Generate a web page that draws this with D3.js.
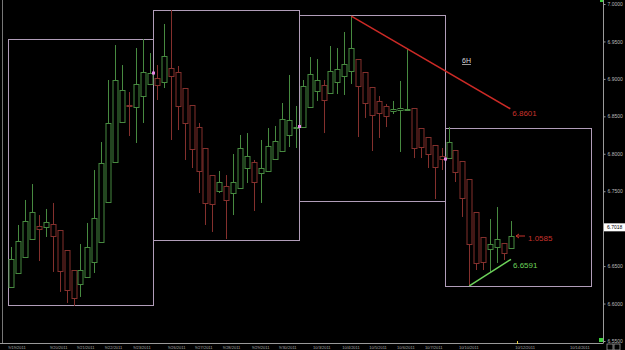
<!DOCTYPE html>
<html>
<head>
<meta charset="utf-8">
<script src="https://cdn.jsdelivr.net/npm/d3@7"></script>
<style>
  body { margin: 0; background: #000; }
  svg { display: block; }
</style>
</head>
<body>
<div id="chart"></div>
<script>
// 6H candles, 9/19/2011 - 10/12/2011
var opens = [6.6221,6.6408,6.6622,6.6862,6.7036,6.7022,6.7062,6.6982,6.6715,6.6448,
  6.6261,6.6355,6.6555,6.6822,6.7356,6.7890,6.8424,6.8651,6.8624,6.8771,
  6.8932,6.9012,6.8958,6.9145,6.9092,6.8878,6.8651,6.8357,6.8077,6.7716,
  6.7503,6.7570,6.7476,6.7543,6.7810,6.7890,6.7743,6.7770,6.7930,6.8037,
  6.8251,6.8357,6.8357,6.8624,6.8838,6.8918,6.8811,6.8958,6.9038,6.9105,
  6.9265,6.9092,6.8892,6.8705,6.8638,6.8571,6.8584,6.8594,6.8611,6.8344,
  6.8224,6.8117,6.7970,6.7943,6.8050,6.7903,6.7663,6.7222,6.6889,6.6729,
  6.6755,6.6809,6.6742];
var highs = [6.6755,6.7049,6.7383,6.7596,6.7182,6.7263,6.7343,6.6982,6.6715,6.6448,
  6.6795,6.7076,6.7783,6.8157,6.8985,6.9452,6.9185,6.8825,6.9412,6.9532,
  6.9345,6.9185,6.9733,6.9920,6.9172,6.8878,6.8651,6.8411,6.8077,6.7716,
  6.7770,6.7716,6.7997,6.8251,6.8277,6.7917,6.8184,6.8344,6.8371,6.8678,
  6.9052,6.8638,6.8985,6.9292,6.9265,6.8985,6.9439,6.9412,6.9626,6.9839,
  6.9265,6.9092,6.8892,6.8771,6.8665,6.8705,6.8972,6.9399,6.8611,6.8344,
  6.8224,6.8117,6.8077,6.8357,6.8050,6.7903,6.7663,6.7222,6.6889,6.7129,
  6.7289,6.6809,6.7102];
var lows = [6.6208,6.6408,6.6622,6.6862,6.6568,6.6889,6.6422,6.6155,6.6008,6.5968,
  6.6088,6.6355,6.6408,6.6822,6.7356,6.7890,6.8424,6.8237,6.8144,6.8411,
  6.8932,6.8718,6.8878,6.8184,6.8317,6.7917,6.7810,6.7476,6.7049,6.6956,
  6.7476,6.6862,6.7182,6.7543,6.7610,6.7236,6.7343,6.7770,6.7930,6.8037,
  6.8090,6.8077,6.8357,6.8624,6.8705,6.8277,6.8811,6.8798,6.8785,6.8932,
  6.8224,6.8478,6.8037,6.8211,6.8357,6.8531,6.8024,6.8584,6.7943,6.7943,
  6.7810,6.7396,6.7783,6.7943,6.7623,6.7156,6.6235,6.6448,6.6448,6.6422,
  6.6542,6.6582,6.6742];
var closes = [6.6595,6.6835,6.7102,6.7222,6.6996,6.7089,6.6902,6.6435,6.6181,6.6074,
  6.6448,6.6755,6.7142,6.7877,6.8411,6.8985,6.8851,6.8638,6.8932,6.9092,
  6.9078,6.8918,6.9305,6.9038,6.8638,6.8411,6.8064,6.7770,6.7343,6.7329,
  6.7623,6.7383,6.7623,6.8077,6.7970,6.7623,6.7810,6.8104,6.8171,6.8464,
  6.8451,6.8364,6.8905,6.9065,6.8985,6.8718,6.9105,6.9132,6.9199,6.9412,
  6.8905,6.8678,6.8518,6.8544,6.8504,6.8598,6.8611,6.8602,6.8077,6.8090,
  6.7997,6.7823,6.7930,6.8157,6.7756,6.7410,6.6795,6.6542,6.6555,6.6795,
  6.6862,6.6675,6.6902];

// date labels on the time axis (position in candle index units)
var dateLabels = ["9/19/2011","9/20/2011","9/21/2011","9/22/2011","9/23/2011","9/26/2011",
  "9/27/2011","9/28/2011","9/29/2011","9/30/2011","10/3/2011","10/4/2011","10/5/2011",
  "10/6/2011","10/7/2011","10/10/2011","10/12/2011","10/14/2011"];
var dateIdx = [-0.4,5.6,9.5,13.5,17.6,22.6,26.5,30.5,34.7,38.6,43.5,47.7,51.6,55.6,59.6,64.5,72.6,80.5];

// price ticks on right axis
var priceTicks = [6.55,6.60,6.65,6.70,6.75,6.80,6.85,6.90,6.95,7.00];
var lastPrice = 6.7018;

// boxes (range rectangles)
var boxStart = [-0.5, 20.5, 41.5, 62.5];
var boxEnd = [20.5, 41.5, 62.5, 83.5];
var boxTop = [6.9532, 6.9920, 6.9853, 6.8344];
var boxBottom = [6.5981, 6.6849, 6.7370, 6.6235];
var markerPrice = [6.9078, 6.8364, 6.7930];

// trend lines
var redLine = [[49, 6.9839], [71.9, 6.8601]];
var greenLine = [[66, 6.6235], [72, 6.6591]];

var svgWidth = 625;
var svgHeight = 350;

var green = "#478a40";
var red = "#84302d";
var boxColor = "#b19db9";
var axisColor = "#9a9a9a";

var svg = d3.select("#chart")
  .append("svg")
  .attr("width", svgWidth)
  .attr("height", svgHeight)
  .style("background", "#000");

var x = d3.scaleLinear().domain([0, 72]).range([11, 511]);
var y = d3.scaleLinear().domain([6.55, 7.0]).range([341, 4]);

var candles = opens.map(function (o, i) {
  return { i: i, o: o, h: highs[i], l: lows[i], c: closes[i] };
});

// left frame line
svg.append("line")
  .attr("x1", 2.5).attr("x2", 2.5)
  .attr("y1", 0).attr("y2", 343)
  .attr("stroke", "#777").attr("stroke-width", 1);

// boxes
var boxes = boxStart.map(function (s, i) {
  return { s: s, e: boxEnd[i], t: boxTop[i], b: boxBottom[i] };
});
svg.append("g").selectAll("rect")
  .data(boxes)
  .enter()
  .append("rect")
  .attr("x", function (d) { return Math.round(x(d.s)) + 0.5; })
  .attr("y", function (d) { return Math.round(y(d.t)) + 0.5; })
  .attr("width", function (d) { return Math.round(x(d.e)) - Math.round(x(d.s)); })
  .attr("height", function (d) { return Math.round(y(d.b)) - Math.round(y(d.t)); })
  .attr("fill", "none")
  .attr("stroke", boxColor)
  .attr("stroke-width", 1);

// candles
var cg = svg.append("g");
candles.forEach(function (d) {
  var col = d.c >= d.o ? green : red;
  var cx = Math.round(x(d.i)) + 0.5;
  cg.append("line")
    .attr("x1", cx).attr("x2", cx)
    .attr("y1", y(d.h)).attr("y2", y(d.l))
    .attr("stroke", col).attr("stroke-width", 1);
  var top = Math.round(y(Math.max(d.o, d.c)));
  var bot = Math.round(y(Math.min(d.o, d.c)));
  cg.append("rect")
    .attr("x", cx - 2.5)
    .attr("y", top + 0.5)
    .attr("width", 5)
    .attr("height", Math.max(bot - top, 1))
    .attr("fill", "#000")
    .attr("stroke", col)
    .attr("stroke-width", 1);
});

// box join markers
svg.append("g").selectAll("rect")
  .data(markerPrice)
  .enter()
  .append("rect")
  .attr("x", function (d, i) { return Math.round(x(boxEnd[i])) - 1; })
  .attr("y", function (d) { return y(d) - 1.5; })
  .attr("width", 3).attr("height", 3)
  .attr("fill", "#e887e8");

// trend lines
var line = d3.line()
  .x(function (d) { return x(d[0]); })
  .y(function (d) { return y(d[1]); });

svg.append("path")
  .attr("d", line(redLine))
  .attr("fill", "none")
  .attr("stroke", "#cc2a26")
  .attr("stroke-width", 1.5);

svg.append("path")
  .attr("d", line(greenLine))
  .attr("fill", "none")
  .attr("stroke", "#6cd25a")
  .attr("stroke-width", 1.5);

svg.append("text")
  .attr("x", x(redLine[1][0]) + 2)
  .attr("y", y(redLine[1][1]) + 7)
  .attr("fill", "#c8322c")
  .style("font-family", "Liberation Sans")
  .style("font-size", "8px")
  .text(d3.format(".4f")(redLine[1][1]));

svg.append("text")
  .attr("x", x(greenLine[1][0]) + 2)
  .attr("y", y(greenLine[1][1]) + 9)
  .attr("fill", "#6cd25a")
  .style("font-family", "Liberation Sans")
  .style("font-size", "8px")
  .text(d3.format(".4f")(greenLine[1][1]));

// arrow at last close
var lastClose = closes[closes.length - 1];
var ax = x(closes.length - 1) + 4;
var ay = y(lastClose);
svg.append("path")
  .attr("d", "M" + (ax + 10) + "," + ay + "H" + (ax + 1) + "M" + (ax + 4) + "," + (ay - 2) + "L" + (ax + 1) + "," + ay + "L" + (ax + 4) + "," + (ay + 2))
  .attr("fill", "none")
  .attr("stroke", "#c8322c")
  .attr("stroke-width", 1);
svg.append("text")
  .attr("x", ax + 13)
  .attr("y", ay + 5)
  .attr("fill", "#c8322c")
  .style("font-family", "Liberation Sans")
  .style("font-size", "8px")
  .text("1.0585");

// timeframe label
svg.append("text")
  .attr("x", 462)
  .attr("y", 63)
  .attr("fill", "#ddd")
  .style("font-family", "Liberation Sans")
  .style("font-size", "7px")
  .style("text-decoration", "underline")
  .text("6H");

// right price axis
var rightAxis = d3.axisRight(y)
  .tickValues(priceTicks)
  .tickSize(2)
  .tickFormat(d3.format(".4f"));

var yAxis = svg.append("g")
  .attr("transform", "translate(603.5,0)")
  .call(rightAxis);
yAxis.select(".domain").attr("stroke", axisColor).attr("d", "M0,0V343");
yAxis.selectAll(".tick line").attr("stroke", axisColor);
yAxis.selectAll(".tick text")
  .attr("x", 4)
  .attr("fill", "#bbb")
  .style("font-family", "Liberation Sans")
  .style("font-size", "5px");

// current price tag
svg.append("rect")
  .attr("x", 604).attr("y", y(lastPrice) - 4)
  .attr("width", 21).attr("height", 8)
  .attr("fill", "#fff");
svg.append("text")
  .attr("x", 607).attr("y", y(lastPrice) + 2)
  .attr("fill", "#000")
  .style("font-family", "Liberation Sans")
  .style("font-size", "5px")
  .text(d3.format(".4f")(lastPrice));

// bottom time axis
svg.append("line")
  .attr("x1", 0).attr("x2", 603.5)
  .attr("y1", 343.5).attr("y2", 343.5)
  .attr("stroke", axisColor);

svg.append("g").selectAll("text")
  .data(dateLabels)
  .enter()
  .append("text")
  .attr("x", function (d, i) { return x(dateIdx[i]); })
  .attr("y", 349)
  .attr("fill", "#aaa")
  .style("font-family", "Liberation Sans")
  .style("font-size", "4px")
  .text(function (d) { return d; });

// small markers
svg.append("rect").attr("x", 599).attr("y", 338).attr("width", 4).attr("height", 4).attr("fill", "#3ccf3c");
svg.append("rect").attr("x", 600).attr("y", 0).attr("width", 3).attr("height", 2).attr("fill", "#3ccf3c");
svg.append("rect").attr("x", 517).attr("y", 341).attr("width", 1).attr("height", 3).attr("fill", "#e8d040");
svg.append("rect").attr("x", 607).attr("y", 344).attr("width", 6).attr("height", 6).attr("fill", "none").attr("stroke", "#999").attr("stroke-width", 0.8);
svg.append("rect").attr("x", 614).attr("y", 344).attr("width", 6).attr("height", 6).attr("fill", "none").attr("stroke", "#999").attr("stroke-width", 0.8);
</script>
</body>
</html>
